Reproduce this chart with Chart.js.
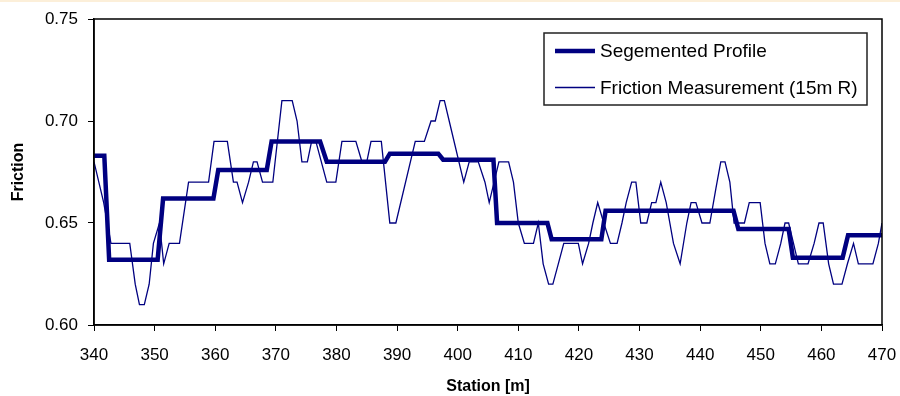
<!DOCTYPE html>
<html>
<head>
<meta charset="utf-8">
<script src="https://cdn.jsdelivr.net/npm/chart.js@4.4.1/dist/chart.umd.min.js"></script>
<style>
  html, body { margin: 0; padding: 0; background: #fff; }
  body { border-top: 2px solid #fcefd9; box-sizing: border-box; }
  #wrap { width: 900px; height: 394px; }
</style>
</head>
<body>
<div id="wrap"><canvas id="chart"></canvas></div>
<script>
const measStations = [340.0, 341.6, 342.8, 345.9, 346.8, 347.5, 348.3, 349.1, 349.8, 350.8,
  351.5, 352.4, 354.1, 355.6, 358.9, 359.8, 362.0, 363.0, 363.6, 364.5,
  365.5, 366.3, 366.9, 367.8, 369.5, 371.0, 372.7, 373.5, 374.3, 375.2,
  375.9, 376.6, 378.4, 379.9, 380.9, 383.2, 384.2, 385.0, 385.7, 387.4,
  388.8, 389.8, 393.0, 394.5, 395.6, 396.3, 397.1, 397.8, 398.6, 401.0,
  401.9, 403.4, 404.5, 405.2, 406.8, 408.4, 409.2, 410.0, 411.0, 412.5,
  413.3, 414.1, 415.0, 415.7, 416.6, 417.5, 419.9, 420.6, 421.6, 422.3,
  423.1, 424.1, 425.2, 426.3, 427.1, 427.8, 428.7, 429.4, 430.2, 431.2,
  432.0, 432.7, 433.5, 434.4, 435.6, 436.7, 437.8, 438.5, 439.3, 440.3,
  441.6, 442.6, 443.4, 444.1, 444.9, 445.6, 447.3, 448.1, 449.9, 450.7,
  451.5, 452.4, 453.3, 454.0, 454.6, 455.4, 456.2, 457.8, 458.8, 459.6,
  460.3, 461.2, 462.0, 463.4, 464.3, 465.3, 466.1, 468.5, 469.4, 470.0];
const measFriction = [0.68, 0.66, 0.64, 0.64, 0.62, 0.61, 0.61, 0.62, 0.64, 0.65,
  0.63, 0.64, 0.64, 0.67, 0.67, 0.69, 0.69, 0.67, 0.67, 0.66,
  0.67, 0.68, 0.68, 0.67, 0.67, 0.71, 0.71, 0.70, 0.68, 0.68,
  0.69, 0.69, 0.67, 0.67, 0.69, 0.69, 0.68, 0.68, 0.69, 0.69,
  0.65, 0.65, 0.69, 0.69, 0.70, 0.70, 0.71, 0.71, 0.70, 0.67,
  0.68, 0.68, 0.67, 0.66, 0.68, 0.68, 0.67, 0.65, 0.64, 0.64,
  0.65, 0.63, 0.62, 0.62, 0.63, 0.64, 0.64, 0.63, 0.64, 0.65,
  0.66, 0.65, 0.64, 0.64, 0.65, 0.66, 0.67, 0.67, 0.65, 0.65,
  0.66, 0.66, 0.67, 0.66, 0.64, 0.63, 0.65, 0.66, 0.66, 0.65,
  0.65, 0.667, 0.68, 0.68, 0.67, 0.65, 0.65, 0.66, 0.66, 0.64,
  0.63, 0.63, 0.64, 0.65, 0.65, 0.64, 0.63, 0.63, 0.64, 0.65,
  0.65, 0.63, 0.62, 0.62, 0.63, 0.64, 0.63, 0.63, 0.64, 0.65];

// segmented profile
const profStations = [340.0, 341.7, 342.5, 350.5, 351.4, 359.7, 360.5, 368.5, 369.3, 377.3,
  378.4, 388.0, 388.8, 396.8, 397.6, 405.9, 406.5, 414.8, 415.5, 423.7,
  424.4, 445.5, 446.3, 454.6, 455.3, 463.5, 464.4, 470.0];
const profFriction = [0.683, 0.683, 0.632, 0.632, 0.662, 0.662, 0.676, 0.676, 0.690, 0.690,
  0.680, 0.680, 0.684, 0.684, 0.681, 0.681, 0.650, 0.650, 0.642, 0.642,
  0.656, 0.656, 0.647, 0.647, 0.633, 0.633, 0.644, 0.644];

const seriesNames = ['Segemented Profile', 'Friction Measurement (15m R)'];
const navy = '#000080';

function pts(xs, ys) {
  return xs.map((x, i) => ({ x: x, y: ys[i] }));
}

// plot frame + boxed legend like the excel original
const framePlugin = {
  id: 'frame',
  afterDatasetsDraw(chart) {
    const a = chart.chartArea;
    const ctx = chart.ctx;
    ctx.save();
    ctx.strokeStyle = '#000';
    ctx.lineWidth = 1.5;
    ctx.strokeRect(a.left, a.top, a.right - a.left, a.bottom - a.top);

    // legend
    const bx = a.right - 338, by = a.top + 14, bw = 323, bh = 72;
    ctx.fillStyle = '#fff';
    ctx.fillRect(bx, by, bw, bh);
    ctx.strokeStyle = '#222';
    ctx.lineWidth = 1.5;
    ctx.strokeRect(bx, by, bw, bh);
    ctx.font = '19px "Liberation Sans", Arial, sans-serif';
    ctx.textBaseline = 'middle';
    chart.data.datasets.forEach((ds, i) => {
      const y = by + 18 + i * 36.5;
      ctx.strokeStyle = ds.borderColor;
      ctx.lineWidth = ds.borderWidth;
      ctx.beginPath();
      ctx.moveTo(bx + 11, y);
      ctx.lineTo(bx + 51, y);
      ctx.stroke();
      ctx.fillStyle = '#000';
      ctx.fillText(ds.label, bx + 56, y + 1);
    });
    ctx.restore();
  }
};

new Chart(document.getElementById('chart'), {
  type: 'line',
  data: {
    datasets: [
      {
        label: seriesNames[0],
        data: pts(profStations, profFriction),
        borderColor: navy,
        borderWidth: 4.5,
        pointRadius: 0,
        tension: 0
      },
      {
        label: seriesNames[1],
        data: pts(measStations, measFriction),
        borderColor: navy,
        borderWidth: 1.3,
        pointRadius: 0,
        tension: 0
      }
    ]
  },
  options: {
    responsive: true,
    maintainAspectRatio: false,
    animation: false,
    layout: { padding: { top: 17, right: 18, bottom: 0, left: 0 } },
    plugins: {
      legend: { display: false },
      tooltip: { enabled: false }
    },
    scales: {
      x: {
        type: 'linear',
        min: 340,
        max: 470,
        ticks: {
          stepSize: 10,
          color: '#000',
          font: { family: '"Liberation Sans", Arial', size: 17 },
          padding: 14
        },
        grid: { drawOnChartArea: false, color: '#000', tickLength: 6 },
        border: { color: '#000', width: 1.5 },
        title: {
          display: true,
          text: 'Station [m]',
          color: '#000',
          font: { family: '"Liberation Sans", Arial', size: 16, weight: 'bold' },
          padding: { top: 6, bottom: 0 }
        },
        afterFit(scale) {
          scale.height = 71;
          scale.paddingLeft = 0;
          scale.paddingRight = 0;
        }
      },
      y: {
        min: 0.6,
        max: 0.75,
        ticks: {
          stepSize: 0.05,
          color: '#000',
          font: { family: '"Liberation Sans", Arial', size: 17 },
          padding: 10,
          callback: v => v.toFixed(2)
        },
        grid: { drawOnChartArea: false, color: '#000', tickLength: 6 },
        border: { color: '#000', width: 1.5 },
        title: {
          display: true,
          text: 'Friction',
          color: '#000',
          font: { family: '"Liberation Sans", Arial', size: 16, weight: 'bold' },
          padding: { top: 9, bottom: 0 }
        },
        afterFit(scale) {
          scale.width = 94;
          scale.paddingTop = 0;
          scale.paddingBottom = 0;
        }
      }
    }
  },
  plugins: [framePlugin]
});
</script>
</body>
</html>
